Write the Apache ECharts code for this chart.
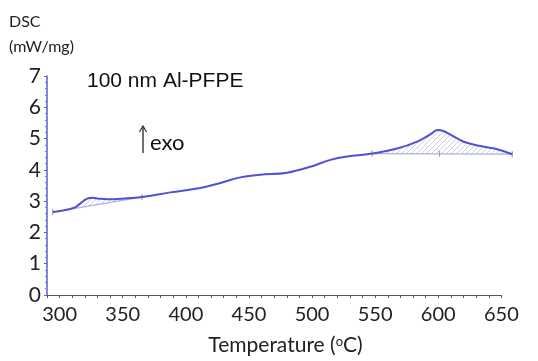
<!DOCTYPE html>
<html>
<head>
<meta charset="utf-8">
<script src="https://cdn.jsdelivr.net/npm/echarts@6/dist/echarts.min.js"></script>
<style>
  html, body { margin: 0; padding: 0; background: #fff; }
  #main { width: 538px; height: 361px; }
</style>
</head>
<body>
<div id="main"></div>
<script>
// DSC curve (temperature in degC, DSC in mW/mg)
var temps = [294.6, 310.9, 316.5, 321.5, 326, 331, 338, 350, 365.2, 387.6, 411.4, 427.3, 443.1, 459, 480.2, 498.7, 514.5, 530.4, 547.6, 567.4, 583.3, 594, 599.5, 604, 610, 620.2, 633.5, 646.7, 658.6];
var dsc   = [2.65, 2.78, 2.93, 3.07, 3.11, 3.08, 3.06, 3.08, 3.13, 3.28, 3.42, 3.58, 3.76, 3.84, 3.91, 4.10, 4.32, 4.44, 4.52, 4.68, 4.90, 5.14, 5.27, 5.24, 5.12, 4.90, 4.76, 4.66, 4.50];
// integrated peaks: index of first and last curve point of each peak
var peakStart = [0, 18];
var peakEnd   = [8, 28];
// extra tick mark on the second baseline (peak temperature)
var peakMarkT = [601];
var yTicks = [0, 1, 2, 3, 4, 5, 6, 7];
var xLabels = [300, 350, 400, 450, 500, 550, 600, 650];
var xStart = 290, xEnd = 650, xStep = 10;

var xTicks = [];
for (var v = xStart; v <= xEnd; v += xStep) xTicks.push(v);

var chart = echarts.init(document.getElementById('main'));

function hatch() {
  var c = document.createElement('canvas');
  c.width = 5; c.height = 5;
  var g = c.getContext('2d');
  g.strokeStyle = '#c4c4d4';
  g.lineWidth = 0.8;
  g.beginPath();
  g.moveTo(0, 5); g.lineTo(5, 0);
  g.moveTo(-2.5, 2.5); g.lineTo(2.5, -2.5);
  g.moveTo(2.5, 7.5); g.lineTo(7.5, 2.5);
  g.stroke();
  return c;
}
var pattern = { image: hatch(), repeat: 'repeat' };

var curve = temps.map(function (t, i) { return [t, dsc[i]]; });

function renderPeak(params, api) {
  var k = params.dataIndex;
  var a = peakStart[k], b = peakEnd[k];
  var pts = [];
  for (var i = a; i <= b; i++) pts.push(api.coord([temps[i], dsc[i]]));
  var p0 = pts[0], p1 = pts[pts.length - 1];
  var kids = [
    { type: 'polygon', shape: { points: pts, smooth: 0.25 }, style: { fill: pattern } },
    { type: 'line', shape: { x1: p0[0], y1: p0[1], x2: p1[0], y2: p1[1] },
      style: { stroke: '#b0b0e8', lineWidth: 1.2 } }
  ];
  [p0, p1].forEach(function (p) {
    kids.push({ type: 'line', shape: { x1: p[0], y1: p[1] - 3, x2: p[0], y2: p[1] + 3 },
      style: { stroke: '#8a8a99', lineWidth: 1 } });
  });
  if (k === 1) {
    var t = peakMarkT[0];
    var frac = (t - temps[a]) / (temps[b] - temps[a]);
    var m = api.coord([t, dsc[a] + frac * (dsc[b] - dsc[a])]);
    kids.push({ type: 'line', shape: { x1: m[0], y1: m[1] - 3, x2: m[0], y2: m[1] + 3 },
      style: { stroke: '#a0a0b0', lineWidth: 1 } });
  }
  return { type: 'group', children: kids };
}

var option = {
  animation: false,
  backgroundColor: '#fff',
  // x axis runs a bit past 650 so the curve tail is not cut
  grid: { left: 47, right: 24, top: 76, bottom: 63 },
  graphic: [
    { type: 'text', left: 9, top: 9,
      style: { text: 'DSC\n(mW/mg)', font: '16px Lato', lineHeight: 25, fill: '#222' } },
    { type: 'text', left: 87, top: 71,
      style: { text: '100 nm Al-PFPE', font: '21px "Liberation Sans"', fill: '#111' } },
    { type: 'polyline', shape: { points: [[143, 153], [143, 127]] },
      style: { stroke: '#333', lineWidth: 1.4, fill: null } },
    { type: 'polyline', shape: { points: [[139.5, 132], [143, 126], [146.5, 132]] },
      style: { stroke: '#333', lineWidth: 1.2, fill: null } },
    { type: 'text', left: 150, top: 132,
      style: { text: 'exo', font: '22px Lato', fill: '#111' } }
  ],
  xAxis: {
    type: 'value', min: 290, max: 660, interval: 10,
    name: '{a|Temperature (}{s|o}{a|C)}',
    nameLocation: 'middle', nameGap: 40,
    nameTextStyle: {
      padding: [0, 0, 0, 10],
      rich: {
        a: { fontFamily: 'Lato', fontSize: 21, color: '#222' },
        s: { fontFamily: 'Lato', fontSize: 13, color: '#222', verticalAlign: 'top', padding: [0, 0, 8, 0] }
      }
    },
    axisLine: { show: false },
    axisTick: { length: 3, customValues: xTicks, lineStyle: { color: '#555' } },
    splitLine: { show: false },
    axisLabel: {
      margin: 10, fontFamily: 'Lato', fontSize: 20, color: '#222',
      customValues: xLabels
    }
  },
  yAxis: {
    type: 'value', min: yTicks[0], max: yTicks[yTicks.length - 1], interval: 1,
    axisLine: { show: true, lineStyle: { color: '#5a5ae0', width: 1.5 } },
    axisTick: { show: true, length: 3, lineStyle: { color: '#5a5ae0' } },
    minorTick: { show: true, splitNumber: 5, length: 2, lineStyle: { color: '#7a7ae6' } },
    splitLine: { show: false },
    axisLabel: { margin: 6, fontFamily: 'Lato', fontSize: 21, color: '#222' }
  },
  series: [
    {
      type: 'custom',
      renderItem: renderPeak,
      data: [[0], [1]],
      z: 1,
      // x axis line drawn only from 290 to 650
      markLine: {
        silent: true, symbol: 'none', label: { show: false },
        lineStyle: { color: '#555', width: 1.2, type: 'solid' },
        data: [[{ coord: [xStart, 0] }, { coord: [xEnd, 0] }]]
      }
    },
    {
      type: 'line',
      data: curve,
      smooth: 0.4,
      symbol: 'none',
      lineStyle: { color: '#5151d4', width: 2 },
      z: 3
    }
  ]
};
chart.setOption(option);
</script>
</body>
</html>
